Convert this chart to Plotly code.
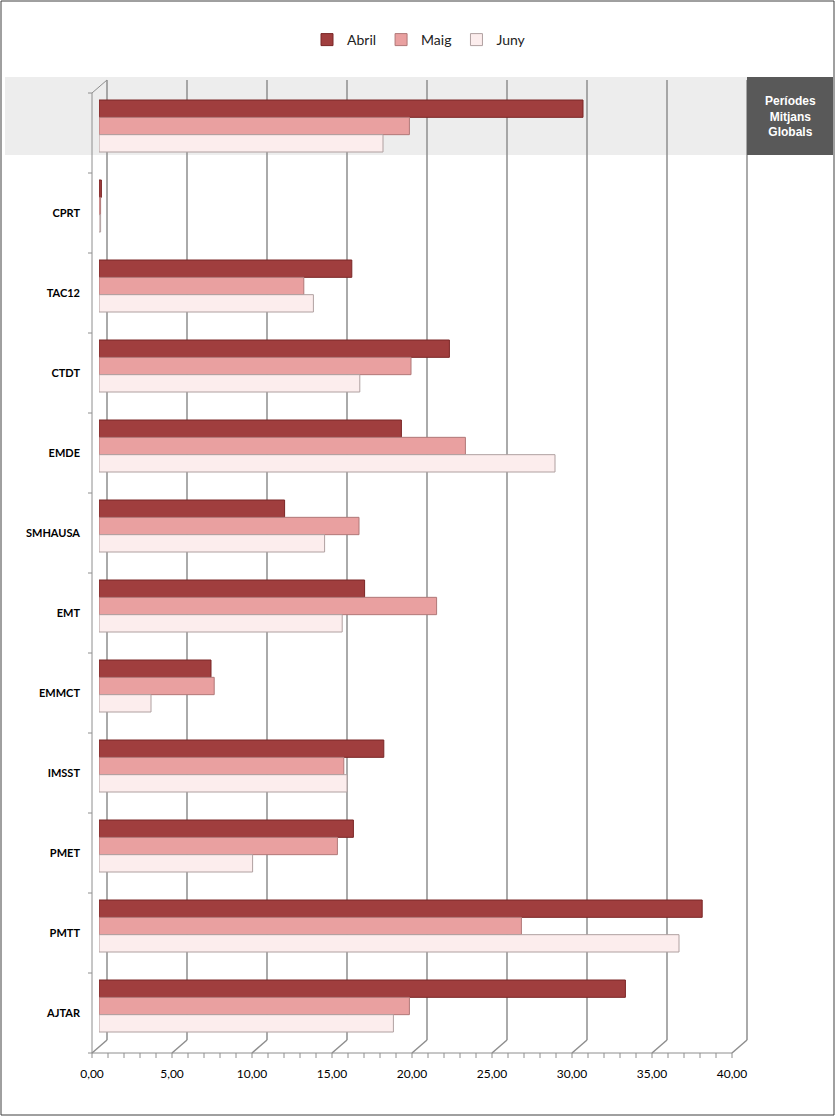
import plotly.graph_objects as go

# categories top -> bottom (first one is the global average row)
categories = ["Períodes Mitjans Globals", "CPRT", "TAC12", "CTDT", "EMDE", "SMHAUSA",
              "EMT", "EMMCT", "IMSST", "PMET", "PMTT", "AJTAR"]
cat_labels = ["", "CPRT", "TAC12", "CTDT", "EMDE", "SMHAUSA",
              "EMT", "EMMCT", "IMSST", "PMET", "PMTT", "AJTAR"]

abril = [30.25, 0.15, 15.8, 21.9, 18.9, 11.6, 16.6, 7.0, 17.8, 15.9, 37.7, 32.9]
maig = [19.4, 0.1, 12.8, 19.5, 22.9, 16.25, 21.1, 7.2, 15.3, 14.9, 26.4, 19.4]
juny = [17.75, 0.1, 13.4, 16.3, 28.5, 14.1, 15.2, 3.25, 15.5, 9.6, 36.25, 18.4]

x_max = 40
x_step = 5

series = [("Abril", abril, "#A03E3E", "#7A2626"),
          ("Maig", maig, "#E9A0A0", "#B07878"),
          ("Juny", juny, "#FCEDED", "#B0A0A0")]

fig = go.Figure()
for name, vals, col, edge in series:
    fig.add_trace(go.Bar(
        y=categories, x=vals, name=name, orientation="h",
        marker=dict(color=col, line=dict(color=edge, width=1)),
        hovertemplate="%{y}: %{x:.2f}<extra>" + name + "</extra>",
    ))

W, H = 836, 1117
L, R, T, B = 99, 97, 86, 71
pw, ph = W - L - R, H - T - B

def px(x):
    return (x - L) / pw

def py(y):
    return 1 - (y - T) / ph

def xv(v):
    # axis value -> paper x (range starts at 0)
    return v / x_max

n = len(categories)

def yv(c):
    # category position -> paper y (range is reversed, -0.5 at top)
    return 1 - (c + 0.5) / n

# fake 3d: back wall sits half a unit right, front floor edge 7px left / lower
back = 8 / 16
front = -7 / 16
floor_y = py(1053)
wall_bottom = py(1040)
wall_top = py(80)
grid = dict(color="#8E8E8E", width=1.5)
axis = dict(color="#8E8E8E", width=1)

shapes = [
    dict(type="rect", xref="paper", yref="paper", x0=px(5), x1=px(747), y0=py(155), y1=py(77),
         fillcolor="#EDEDED", line=dict(width=0), layer="below"),
]
for v in range(0, x_max + 1, x_step):
    shapes.append(dict(type="line", xref="paper", yref="paper", x0=xv(v + back), x1=xv(v + back),
                       y0=wall_bottom, y1=wall_top, line=grid, layer="below"))
    shapes.append(dict(type="line", xref="paper", yref="paper", x0=xv(v + back), x1=xv(v + front),
                       y0=wall_bottom, y1=floor_y, line=grid, layer="below"))
# left wall edge and its top slant
shapes.append(dict(type="line", xref="paper", yref="paper", x0=xv(front), x1=xv(front),
                   y0=floor_y, y1=py(93), line=axis, layer="below"))
shapes.append(dict(type="line", xref="paper", yref="paper", x0=xv(front), x1=xv(back),
                   y0=py(93), y1=wall_top, line=axis, layer="below"))
# bottom axis with minor ticks
shapes.append(dict(type="line", xref="paper", yref="paper", x0=xv(front), x1=xv(x_max + front),
                   y0=floor_y, y1=floor_y, line=axis, layer="below"))
for v in range(0, x_max + 1):
    shapes.append(dict(type="line", xref="paper", yref="paper", x0=xv(v + front), x1=xv(v + front),
                       y0=floor_y, y1=py(1058), line=axis, layer="below"))
# category boundary ticks on the left edge (front edge sits 7px lower)
for k in range(n + 1):
    yb = yv(k - 0.5) - 7 / ph
    shapes.append(dict(type="line", xref="paper", yref="paper", x0=px(88), x1=xv(front),
                       y0=yb, y1=yb, line=axis, layer="below"))
# dark label box and outer frame
shapes.append(dict(type="rect", xref="paper", yref="paper", x0=px(747), x1=px(833),
                   y0=py(155), y1=py(77), fillcolor="#595959", line=dict(width=0), layer="below"))
shapes.append(dict(type="rect", xref="paper", yref="paper", x0=px(1), x1=px(834),
                   y0=py(1115), y1=py(1), fillcolor="rgba(0,0,0,0)",
                   line=dict(color="#404040", width=1)))

fig.update_layout(
    width=W, height=H,
    margin=dict(l=L, r=R, t=T, b=B),
    paper_bgcolor="white", plot_bgcolor="rgba(0,0,0,0)",
    barmode="group", bargap=0.35, bargroupgap=0.0,
    font=dict(family="Lato, Arial", color="#000000"),
    legend=dict(orientation="h", x=0.5, xanchor="center", y=py(40), yanchor="middle",
                font=dict(size=14, color="#222222"), itemwidth=30, traceorder="normal"),
    shapes=shapes,
    annotations=[dict(text="<b>Períodes<br>Mitjans<br>Globals</b>", xref="paper", yref="paper",
                      x=px(790), y=py(116), xanchor="center", yanchor="middle", showarrow=False,
                      font=dict(family="Arial", size=12, color="white"), align="center")],
    showlegend=True,
    separators=",.",
)

fig.update_xaxes(
    range=[0, x_max], dtick=x_step, tickformat=".2f",
    showgrid=False, showline=False, zeroline=False, ticks="",
    ticklabelshift=-7, ticklabelstandoff=19, automargin=False,
    tickfont=dict(size=12, family="Lato, Arial", color="#000000"),
    fixedrange=True,
)
fig.update_yaxes(
    range=[n - 0.5, -0.5], tickvals=categories,
    ticktext=["<b>" + t + "</b>" if t else "" for t in cat_labels],
    showline=False, ticks="", showgrid=False, zeroline=False,
    tickfont=dict(size=11, family="Lato, Arial", color="#000000"),
    ticklabelshift=-7, ticklabelstandoff=18, automargin=False,
    fixedrange=True,
)

fig.write_html("out.html", config={"displayModeBar": False},
               post_script="document.body.style.margin='0px';")
